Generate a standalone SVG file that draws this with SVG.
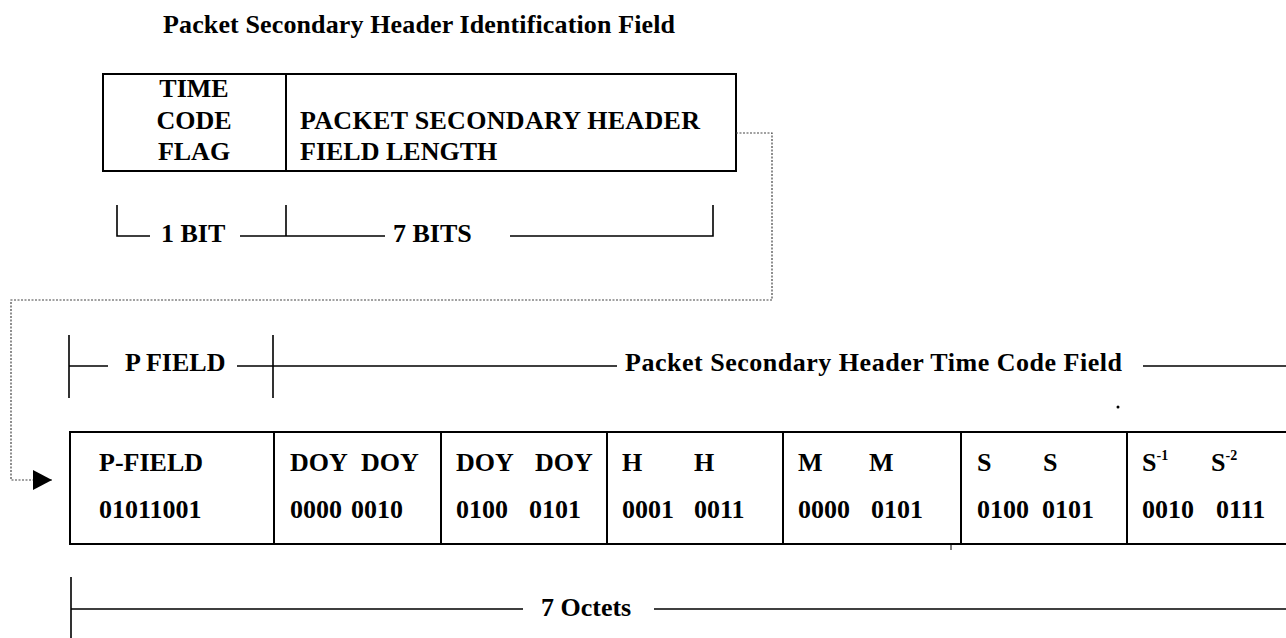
<svg xmlns="http://www.w3.org/2000/svg" width="1286" height="638" viewBox="0 0 1286 638">
<style>
text{font-family:"Liberation Serif","Times New Roman",serif;font-weight:bold;font-size:26px;fill:#000}
.box{fill:none;stroke:#000;stroke-width:2}
.ln{fill:none;stroke:#000;stroke-width:1.6}
.dot{fill:none;stroke:#444;stroke-width:1.2;stroke-dasharray:2 1.5}
.sup{font-size:14px}
</style>
<defs>
<marker id="arr" markerWidth="20" markerHeight="20" refX="19" refY="10" orient="auto" markerUnits="userSpaceOnUse">
<path d="M0,0 L19,10 L0,20 Z" fill="#000"/>
</marker>
</defs>
<rect width="1286" height="638" fill="#fff"/>
<text id="title" x="163" y="33" textLength="512" lengthAdjust="spacing">Packet Secondary Header Identification Field</text>

<g id="id-field">
<rect class="box" x="103" y="74" width="633" height="97"/>
<line class="box" x1="286" y1="74" x2="286" y2="171"/>
<text x="194" y="97" text-anchor="middle">TIME</text>
<text x="194" y="129" text-anchor="middle">CODE</text>
<text x="194" y="160" text-anchor="middle">FLAG</text>
<text x="300" y="129" textLength="400" lengthAdjust="spacing">PACKET SECONDARY HEADER</text>
<text x="300" y="160">FIELD LENGTH</text>
</g>

<g id="bits-bracket">
<path class="ln" d="M117,205 V236 H150"/>
<text x="161" y="242">1 BIT</text>
<path class="ln" d="M240,236 H385 M286,205 V236"/>
<text x="393" y="242">7 BITS</text>
<path class="ln" d="M510,236 H713 V205"/>
</g>

<g id="pfield-bracket">
<path class="ln" d="M69,335 V398 M69,366 H108"/>
<text x="125" y="371">P FIELD</text>
<path class="ln" d="M237,366 H617 M273,335 V398"/>
<text x="625" y="371" textLength="497" lengthAdjust="spacing">Packet Secondary Header Time Code Field</text>
<path class="ln" d="M1143,366 H1286"/>
</g>

<g id="time-code-field">
<path class="box" d="M1286,432 H70 V544 H1286"/>
<line class="box" x1="274" y1="432" x2="274" y2="544"/>
<line class="box" x1="441" y1="432" x2="441" y2="544"/>
<line class="box" x1="607" y1="432" x2="607" y2="544"/>
<line class="box" x1="783" y1="432" x2="783" y2="544"/>
<line class="box" x1="961" y1="432" x2="961" y2="544"/>
<line class="box" x1="1127" y1="432" x2="1127" y2="544"/>
<text x="99" y="471">P-FIELD</text>
<text x="99" y="518">01011001</text>
<text x="290" y="471">DOY</text><text x="361" y="471">DOY</text>
<text x="290" y="518">0000</text><text x="351" y="518">0010</text>
<text x="456" y="471">DOY</text><text x="535" y="471">DOY</text>
<text x="456" y="518">0100</text><text x="529" y="518">0101</text>
<text x="622" y="471">H</text><text x="694" y="471">H</text>
<text x="622" y="518">0001</text><text x="694" y="518">0011</text>
<text x="798" y="471">M</text><text x="869" y="471">M</text>
<text x="798" y="518">0000</text><text x="871" y="518">0101</text>
<text x="977" y="471">S</text><text x="1043" y="471">S</text>
<text x="977" y="518">0100</text><text x="1042" y="518">0101</text>
<text x="1142" y="471">S<tspan class="sup" dy="-11">-1</tspan></text>
<text x="1211" y="471">S<tspan class="sup" dy="-11">-2</tspan></text>
<text x="1142" y="518">0010</text><text x="1216" y="518">0111</text>
</g>

<g id="octets-bracket">
<path class="ln" d="M71,577 V638 M71,609 H523"/>
<text x="541" y="616">7 Octets</text>
<path class="ln" d="M654,609 H1286"/>
</g>

<g id="connectors">
<path class="dot" d="M736,133 H772 V300 H11 V480 H52" marker-end="url(#arr)"/>
</g>

<g id="marks">
<circle cx="1118" cy="407" r="1.5" fill="#000"/>
<line x1="951" y1="545" x2="951" y2="550" stroke="#000" stroke-width="1"/>
</g>
</svg>
